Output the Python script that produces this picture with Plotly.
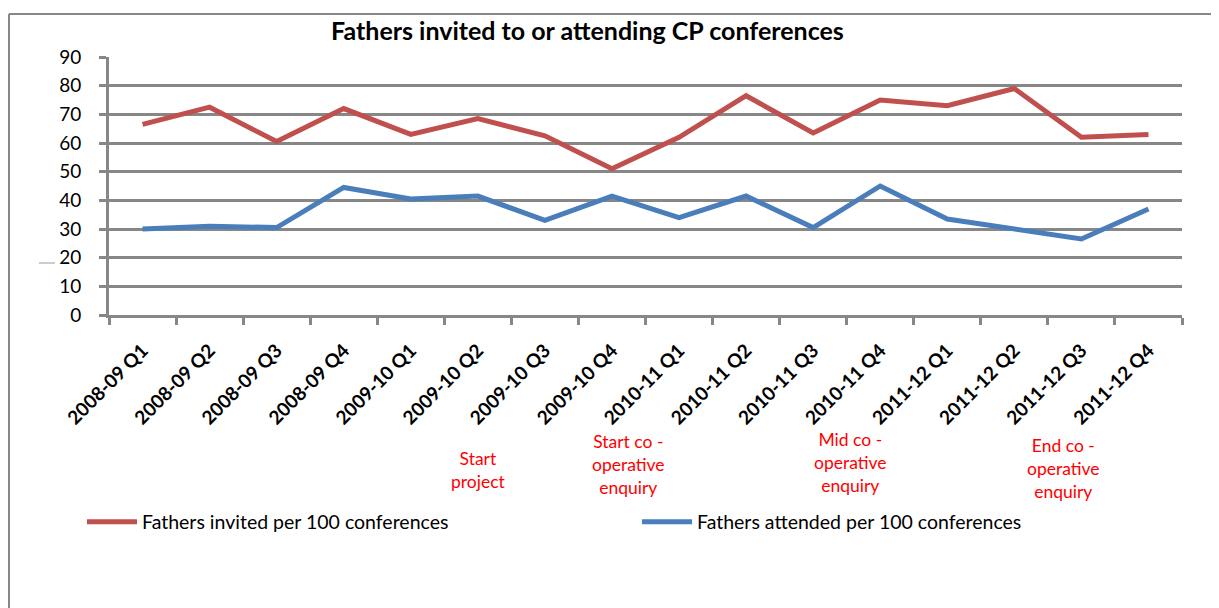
import plotly.graph_objects as go

categories = ["2008-09 Q1", "2008-09 Q2", "2008-09 Q3", "2008-09 Q4",
              "2009-10 Q1", "2009-10 Q2", "2009-10 Q3", "2009-10 Q4",
              "2010-11 Q1", "2010-11 Q2", "2010-11 Q3", "2010-11 Q4",
              "2011-12 Q1", "2011-12 Q2", "2011-12 Q3", "2011-12 Q4"]
invited = [66.5, 72.5, 60.5, 72, 63, 68.5, 62.5, 51, 62, 76.5, 63.5, 75, 73, 79, 62, 63]
attended = [30, 31, 30.5, 44.5, 40.5, 41.5, 33, 41.5, 34, 41.5, 30.5, 45, 33.5, 30, 26.5, 37]
y_ticks = [0, 10, 20, 30, 40, 50, 60, 70, 80, 90]
notes = ["Start<br>project", "Start co -<br>operative<br>enquiry",
         "Mid co -<br>operative<br>enquiry", "End co -<br>operative<br>enquiry"]

# page coordinates (the html body adds an 8px offset)
OFF = 8
PW, PH = 1219, 608
L, R, T, B = 109, 1182, 57, 315


def px(x):
    return (x - L) / (R - L)


def py(y):
    return (B - y) / (B - T)


FONT = "Lato"
GRID = "#878787"

fig = go.Figure()
fig.add_trace(go.Scatter(x=categories, y=invited, mode="lines",
                         name="Fathers invited per 100 conferences",
                         line=dict(color="#C0504D", width=5)))
fig.add_trace(go.Scatter(x=categories, y=attended, mode="lines",
                         name="Fathers attended per 100 conferences",
                         line=dict(color="#4A7EBB", width=5)))

note_pos = [(478, 470), (628, 464), (850, 462), (1063, 468)]
annotations = [dict(text="<b>Fathers invited to or attending CP conferences</b>",
                    x=px(587), y=py(30), xref="paper", yref="paper",
                    xanchor="center", yanchor="middle",
                    showarrow=False, font=dict(family=FONT, size=25, color="black"))]
for t, (ax, ay) in zip(notes, note_pos):
    annotations.append(dict(text=t, x=px(ax), y=py(ay), xref="paper", yref="paper",
                            xanchor="center", yanchor="middle",
                            showarrow=False, align="center",
                            font=dict(family=FONT, size=17.5, color="#FF0000")))

shapes = [
    dict(type="line", xref="paper", yref="paper", x0=px(9), x1=px(1240),
         y0=py(14), y1=py(14), line=dict(color=GRID, width=2)),
    dict(type="line", xref="paper", yref="paper", x0=px(9), x1=px(9),
         y0=py(14), y1=py(640), line=dict(color=GRID, width=2)),
    dict(type="line", xref="paper", yref="paper", x0=px(39), x1=px(55),
         y0=py(263), y1=py(263), line=dict(color="#999999", width=1)),
]

fig.update_layout(
    width=PW - OFF, height=PH - OFF,
    margin=dict(l=L - OFF, r=PW - R, t=T - OFF, b=PH - B),
    paper_bgcolor="white", plot_bgcolor="white",
    font=dict(family=FONT, color="black"),
    showlegend=True,
    legend=dict(orientation="h", x=px(82), y=py(522), xanchor="left", yanchor="middle",
                entrywidth=490, entrywidthmode="pixels", itemwidth=50,
                font=dict(family=FONT, size=19.5, color="black"),
                bgcolor="rgba(0,0,0,0)", tracegroupgap=0),
    annotations=annotations,
    shapes=shapes,
)
fig.update_xaxes(type="category", range=[-0.5, len(categories) - 0.5],
                 showgrid=False, showline=True, linecolor=GRID, linewidth=3,
                 ticks="outside", ticklen=7, tickwidth=3, tickcolor=GRID,
                 tickson="boundaries", tickangle=-45, ticklabelstandoff=14,
                 tickfont=dict(family=FONT, size=19, color="black", weight="bold"),
                 zeroline=False)
fig.update_yaxes(range=[0, 90], tickvals=y_ticks, showgrid=True, gridcolor=GRID, gridwidth=3,
                 showline=True, linecolor=GRID, linewidth=3,
                 ticks="outside", ticklen=7, tickwidth=3, tickcolor=GRID,
                 ticklabelstandoff=14,
                 tickfont=dict(family=FONT, size=19, color="black"), zeroline=False)

fig.write_html("out.html")
